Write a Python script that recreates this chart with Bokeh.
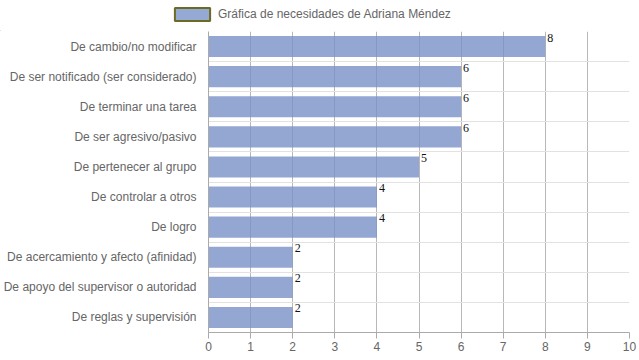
from bokeh.plotting import figure
from bokeh.layouts import column
from bokeh.models import (ColumnDataSource, Range1d, FixedTicker, Legend, LegendItem,
                          LabelSet)
from bokeh.core.properties import value
from bokeh.embed import file_html
from bokeh.resources import INLINE

categories = [
    "De cambio/no modificar",
    "De ser notificado (ser considerado)",
    "De terminar una tarea",
    "De ser agresivo/pasivo",
    "De pertenecer al grupo",
    "De controlar a otros",
    "De logro",
    "De acercamiento y afecto (afinidad)",
    "De apoyo del supervisor o autoridad",
    "De reglas y supervisión",
]
values = [8, 6, 6, 6, 5, 4, 4, 2, 2, 2]
x_ticks = [0, 1, 2, 3, 4, 5, 6, 7, 8, 9, 10]
series_name = "Gráfica de necesidades de Adriana Méndez"

centers = [i + 0.5 for i in range(len(categories))]
src = ColumnDataSource(dict(y=centers, v=values, lab=[str(v) for v in values]))

# ---- legend strip ----
lg = figure(width=639, height=31, output_backend="svg", toolbar_location=None,
            x_axis_type=None, y_axis_type=None, min_border=0,
            x_range=Range1d(0, 1), y_range=Range1d(0, 1))
lg.frame_align = False
lg.outline_line_color = None
lg.xgrid.visible = False
lg.ygrid.visible = False
# proxy glyph lies outside the visible range; used only for the legend swatch
proxy = lg.hbar(y=[-5], right=[-4], left=-5, height=0.7,
                fill_color="#94a9d4", line_color="#6b6b22", line_width=2)
legend = Legend(items=[LegendItem(label=series_name, renderers=[proxy])],
                location=(170, 9), orientation="horizontal",
                glyph_width=44, glyph_height=16, padding=0, margin=0,
                border_line_color=None, background_fill_alpha=0,
                label_text_font="Liberation Sans", label_text_font_size="12px",
                label_text_color="#666666", label_standoff=4)
lg.add_layout(legend, "center")

# ---- main chart ----
p = figure(width=639, height=329, output_backend="svg", toolbar_location=None,
           x_range=Range1d(0, 10), y_range=Range1d(len(categories), 0),
           min_border_left=208, min_border_right=10, min_border_top=0,
           min_border_bottom=28)
p.frame_align = False
p.outline_line_color = None
p.background_fill_color = "white"
p.border_fill_color = "white"

bars = p.hbar(y="y", right="v", left=0, height=0.7, source=src,
              fill_color="#7991c8", fill_alpha=0.8, line_color=None)

labels = LabelSet(x="v", y="y", text="lab", source=src, x_offset=2, y_offset=13,
                  text_baseline="top", text_align="left",
                  text_font=value("Liberation Serif"), text_font_size="12px",
                  text_color="#111111")
p.add_layout(labels)

# x axis
p.xaxis.ticker = FixedTicker(ticks=x_ticks)
p.xaxis.axis_line_color = "#aaaaaa"
p.xaxis.major_tick_line_color = "#aaaaaa"
p.xaxis.major_tick_out = 6
p.xaxis.major_tick_in = 0
p.xaxis.minor_tick_line_color = None
p.xaxis.major_label_text_font = "Liberation Sans"
p.xaxis.major_label_text_font_size = "12px"
p.xaxis.major_label_text_color = "#666666"
p.xaxis.major_label_standoff = 3

# y axis
p.yaxis.ticker = FixedTicker(ticks=centers)
p.yaxis.major_label_overrides = {c: cat for c, cat in zip(centers, categories)}
p.yaxis.axis_line_color = "#aaaaaa"
p.yaxis.major_tick_line_color = None
p.yaxis.minor_tick_line_color = None
p.yaxis.major_label_text_font = "Liberation Sans"
p.yaxis.major_label_text_font_size = "12px"
p.yaxis.major_label_text_color = "#666666"
p.yaxis.major_label_standoff = 6

# grids
p.xgrid.ticker = FixedTicker(ticks=x_ticks)
p.xgrid.grid_line_color = "#b8b8b8"
p.ygrid.ticker = FixedTicker(ticks=list(range(1, len(categories))))
p.ygrid.grid_line_color = "#e2e2e2"

layout = column(lg, p, spacing=0)
open("out.html", "w").write(file_html(layout, INLINE))
